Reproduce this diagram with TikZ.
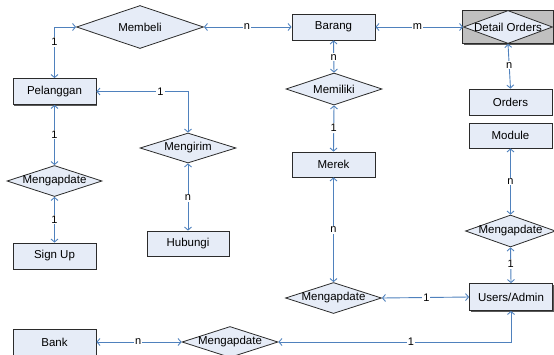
\documentclass[tikz,border=0pt]{standalone}
\usepackage{fontspec}
\setmainfont{Liberation Sans}
\usetikzlibrary{arrows.meta,shapes.geometric,shadows}
\definecolor{linkblue}{HTML}{4F81BD}
\definecolor{boxfill}{HTML}{E6ECF7}
\definecolor{boxedge}{HTML}{2B2B2B}
\definecolor{weakbg}{HTML}{C0C0C0}
\tikzset{
  entity/.style={rectangle, draw=boxedge, line width=0.8pt, fill=boxfill,
    minimum width=83pt, minimum height=26pt, inner sep=0pt,
    drop shadow={shadow xshift=1.1pt, shadow yshift=-1.1pt, fill=black!65, opacity=1},
    font=\fontsize{11.5}{13}\selectfont},
  relation/.style={diamond, draw=boxedge, line width=0.8pt, fill=boxfill,
    inner sep=0pt, aspect=3, font=\fontsize{11.5}{13}\selectfont},
  link/.style={draw=linkblue, line width=0.9pt,
    {Straight Barb[length=3pt,width=7pt]}-{Straight Barb[length=3pt,width=7pt]}},
  card/.style={fill=white, inner sep=1pt, text=black, font=\fontsize{11}{12}\selectfont}
}
\newcommand{\rtext}[1]{\makebox[0pt]{#1}}
\begin{document}
\begin{tikzpicture}[x=1pt, y=-1pt]
  \useasboundingbox (0,0) rectangle (554,354);

  % entities
  \node[entity] (pel)  at (54.5,91.5) {Pelanggan};
  \node[entity] (brg)  at (333.5,27) {Barang};
  \node[entity] (ord)  at (510.5,102) {Orders};
  \node[entity, minimum height=25pt] (mod)  at (510.5,135.5) {Module};
  \node[entity, minimum width=82pt, minimum height=25pt] (hub) at (188,243.5) {Hubungi};
  \node[entity] (sgn)  at (54.5,256) {Sign Up};
  \node[entity, minimum height=25pt] (mrk)  at (333.5,164.5) {Merek};
  \node[entity, minimum height=27pt] (usr)  at (511,297) {Users/Admin};
  \node[entity] (bank) at (54.5,342) {Bank};

  % associative entity: Detail Orders
  \node[entity, fill=weakbg, minimum width=91pt, minimum height=33pt] (detbg) at (508,27) {};
  \node[relation, minimum width=89pt, minimum height=33pt] (det) at (508,27) {\rtext{Detail Orders}};

  % relationships
  \node[relation, minimum width=127pt, minimum height=43pt] (mb)  at (140,27) {\rtext{Membeli}};
  \node[relation, minimum width=96pt, minimum height=30pt] (mgr) at (188,148) {\rtext{Mengirim}};
  \node[relation, minimum width=95pt, minimum height=31pt] (mu1) at (54.5,181) {\rtext{Mengapdate}};
  \node[relation, minimum width=96pt, minimum height=32pt] (mem) at (334,89) {\rtext{Memiliki}};
  \node[relation, minimum width=90pt, minimum height=32pt] (mu2) at (510.5,231) {\rtext{Mengapdate}};
  \node[relation, minimum width=96pt, minimum height=31pt] (mu3) at (333.5,298) {\rtext{Mengapdate}};
  \node[relation, minimum width=96pt, minimum height=31pt] (mu4) at (230,342) {\rtext{Mengapdate}};

  % connectors with cardinalities
  \draw[link] (mb.west) -| node[card, pos=0.645] {1} (pel.north);
  \draw[link] (mb.east) -- node[card, pos=0.49] {n} (brg.west);
  \draw[link] (brg.east) -- node[card, pos=0.48] {m} (det.west);
  \draw[link] (brg.south) -- node[card, pos=0.52] {n} (mem.north);
  \draw[link] (mem.south) -- node[card, pos=0.49] {1} (mrk.north);
  \draw[link] (mrk.south) -- node[card, pos=0.5] {n} (mu3.north);
  \draw[link] (mu3.east) -- node[card, pos=0.51] {1} (usr.west);
  \draw[link] (det.south) -- node[card, pos=0.48] {n} (ord.north);
  \draw[link] (mod.south) -- node[card, pos=0.5] {n} (mu2.north);
  \draw[link] (mu2.south) -- node[card, pos=0.46] {1} (usr.north);
  \draw[link] (usr.south) |- node[card, pos=0.715] {1} (mu4.east);
  \draw[link] (mu4.west) -- node[card, pos=0.51] {n} (bank.east);
  \draw[link] (pel.east) -| node[card, pos=0.35] {1} (mgr.north);
  \draw[link] (mgr.south) -- node[card, pos=0.51] {n} (hub.north);
  \draw[link] (pel.south) -- node[card, pos=0.49] {1} (mu1.north);
  \draw[link] (mu1.south) -- node[card, pos=0.49] {1} (sgn.north);
\end{tikzpicture}
\end{document}
